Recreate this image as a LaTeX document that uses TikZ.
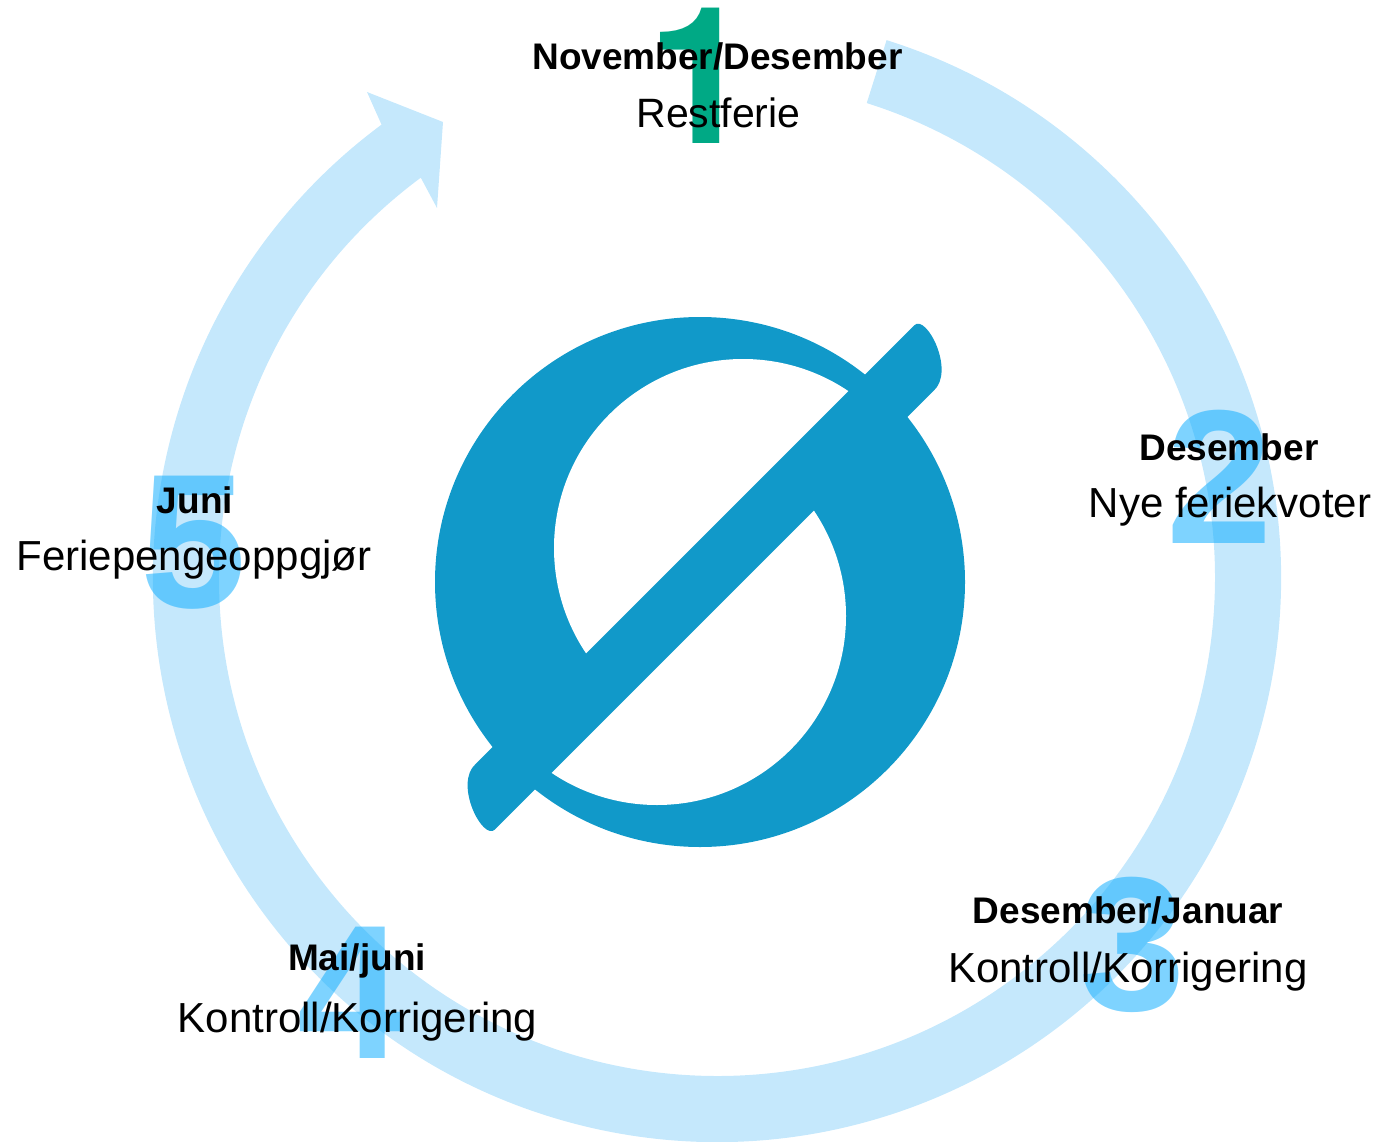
\documentclass[tikz,border=0pt]{standalone}
\usepackage{fontspec}
\setmainfont{Liberation Sans}
\newfontfamily\herosfont{TeX Gyre Heros}
\usetikzlibrary{calc}
\definecolor{ringc}{HTML}{C5E8FC}
\definecolor{logoc}{HTML}{1199C9}
\definecolor{greenc}{HTML}{00A985}
\definecolor{numc}{RGB}{20,175,255}
\tikzset{
  month/.style={inner sep=0pt, anchor=base, font=\bfseries\fontsize{37}{44}\selectfont},
  task/.style={inner sep=0pt, anchor=base, font=\fontsize{42}{50}\selectfont},
  bignum/.style={inner sep=0pt, anchor=base, font=\bfseries\fontsize{191}{200}\selectfont},
  bluenum/.style={bignum, text=numc, text opacity=0.55},
}
\begin{document}
\begin{tikzpicture}[x=1pt,y=-1pt]
\useasboundingbox (0,0) rectangle (1384,1142);
% ring arrow
\coordinate (C) at (717,578);
\coordinate (barbA) at (367,92);
\coordinate (tip) at (443,122);
\coordinate (barbB) at (437,208);
\fill[ringc] ($(C)+(-72.5:564)$) arc[start angle=-72.5,end angle=233.5,radius=564]
  -- (barbA) -- (tip) -- (barbB) -- ($(C)+(233.5:498)$)
  arc[start angle=233.5,end angle=-72.5,radius=498] -- cycle;
% logo
\coordinate (L) at (700,582);
\fill[logoc] (L) circle[radius=265];
\begin{scope}
  \clip (0,0) -- (1241,0) -- (0,1241) -- cycle;
  \fill[white] (743,548) circle[radius=189];
\end{scope}
\begin{scope}
  \clip (1323,0) -- (2000,0) -- (2000,2000) -- (0,2000) -- (0,1323) -- cycle;
  \fill[white] (657,616) circle[radius=189];
\end{scope}
\begin{scope}[shift={(L)}, rotate=45]
\fill[logoc] (300,30) .. controls (330,32) and (350,-30) .. (333,-30)
  -- (-287,-30) .. controls (-317,-32) and (-337,30) .. (-320,30) -- cycle;
\end{scope}
% big numbers
\node[bignum, text=greenc, font=\herosfont\bfseries\fontsize{191}{200}\selectfont] (n1) at (701,144) {1};
\node[bluenum] (n2) at (1220,543) {2};
\node[bluenum] (n3) at (1133,1010) {3};
\node[bluenum] (n4) at (351,1058) {4};
\node[bluenum] (n5) at (194,607) {5};
% labels
\node[month] (m1) at (717.5,70) {November/Desember};
\node[task, font=\fontsize{41}{50}\selectfont] (t1) at (718.5,128) {Restferie};
\node[month] (m2) at (1229,460) {Desember};
\node[task] (t2) at (1230,517) {Nye feriekvoter};
\node[month] (m3) at (1128,923) {Desember/Januar};
\node[task] (t3) at (1128,982) {Kontroll/Korrigering};
\node[month] (m4) at (357,970) {Mai/juni};
\node[task] (t4) at (357.5,1032) {Kontroll/Korrigering};
\node[month] (m5) at (195,513) {Juni};
\node[task] (t5) at (194,570) {Feriepengeoppgjør};
\end{tikzpicture}
\end{document}
